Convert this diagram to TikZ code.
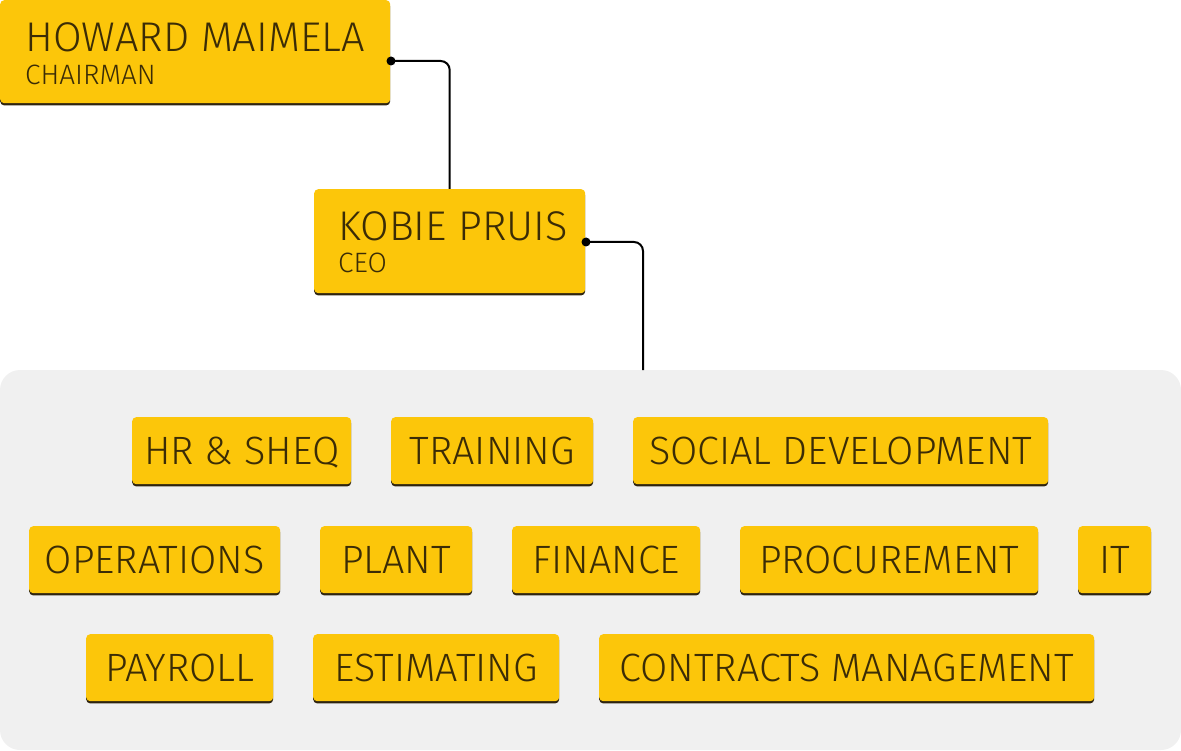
\documentclass[tikz,border=0pt]{standalone}
\usepackage{fontspec}
\setmainfont{Fira Sans}[UprightFont=* Light]
\usetikzlibrary{shadows,calc}
\definecolor{boxyellow}{HTML}{FCC60A}
\definecolor{boxtext}{HTML}{3B2C06}
\definecolor{boxshadow}{HTML}{2E2410}
\definecolor{panelgray}{HTML}{F0F0F0}
\tikzset{
  ybox/.style={fill=boxyellow, rounded corners=4pt, inner sep=0pt, anchor=north west,
    text=boxtext, font=\fontsize{39.5}{39.5}\selectfont, text height=27pt, text depth=0pt,
    drop shadow={shadow xshift=0pt, shadow yshift=-2.2pt, fill=boxshadow, opacity=1}},
  bigname/.style={anchor=base west, inner sep=0pt, text=boxtext, font=\fontsize{41.5}{41.5}\selectfont},
  subname/.style={anchor=base west, inner sep=0pt, text=boxtext, font=\fontsize{28}{28}\selectfont},
  link/.style={draw=black, line width=2pt, rounded corners=9pt},
  dotmark/.style={fill=black, circle, inner sep=0pt, minimum size=9pt}
}
\begin{document}
\begin{tikzpicture}[x=1pt,y=-1pt]
\useasboundingbox (0,0) rectangle (1181,751);
\fill[panelgray, rounded corners=20pt] (0,370) rectangle (1181,750);
% top boxes
\node[ybox, minimum width=390pt, minimum height=103pt] (howard) at (0,0) {};
\node[bigname] (howardname) at (25,52) {HOWARD MAIMELA};
\node[subname] (howardrole) at (25,85) {CHAIRMAN};
\node[ybox, minimum width=271pt, minimum height=104pt] (kobie) at (314,189) {};
\node[bigname] (kobiename) at (338,241) {KOBIE PRUIS};
\node[subname] (kobierole) at (338,273) {CEO};
% connectors
\coordinate (hdot) at (391,61);
\coordinate (kdot) at (586,242);
\coordinate (paneltop) at (643,370);
\draw[link] (hdot) -| (kobie.north);
\draw[link] (kdot) -| (paneltop);
\node[dotmark] (hdotn) at (hdot) {};
\node[dotmark] (kdotn) at (kdot) {};
% row 1
\node[ybox, minimum width=219pt, minimum height=67pt] (hr) at (132,417) {HR \& SHEQ};
\node[ybox, minimum width=202pt, minimum height=67pt] (training) at (391,417) {TRAINING};
\node[ybox, minimum width=415pt, minimum height=67pt] (social) at (633,417) {SOCIAL DEVELOPMENT};
% row 2
\node[ybox, minimum width=251pt, minimum height=67pt] (ops) at (29,526) {OPERATIONS};
\node[ybox, minimum width=152pt, minimum height=67pt] (plant) at (320,526) {PLANT};
\node[ybox, minimum width=188pt, minimum height=67pt] (finance) at (512,526) {FINANCE};
\node[ybox, minimum width=298pt, minimum height=67pt] (proc) at (740,526) {PROCUREMENT};
\node[ybox, minimum width=73pt, minimum height=67pt] (it) at (1078,526) {IT};
% row 3
\node[ybox, minimum width=187pt, minimum height=67pt] (payroll) at (86,634) {PAYROLL};
\node[ybox, minimum width=246pt, minimum height=67pt] (estimating) at (313,634) {ESTIMATING};
\node[ybox, minimum width=495pt, minimum height=67pt] (contracts) at (599,634) {CONTRACTS MANAGEMENT};
\end{tikzpicture}
\end{document}
